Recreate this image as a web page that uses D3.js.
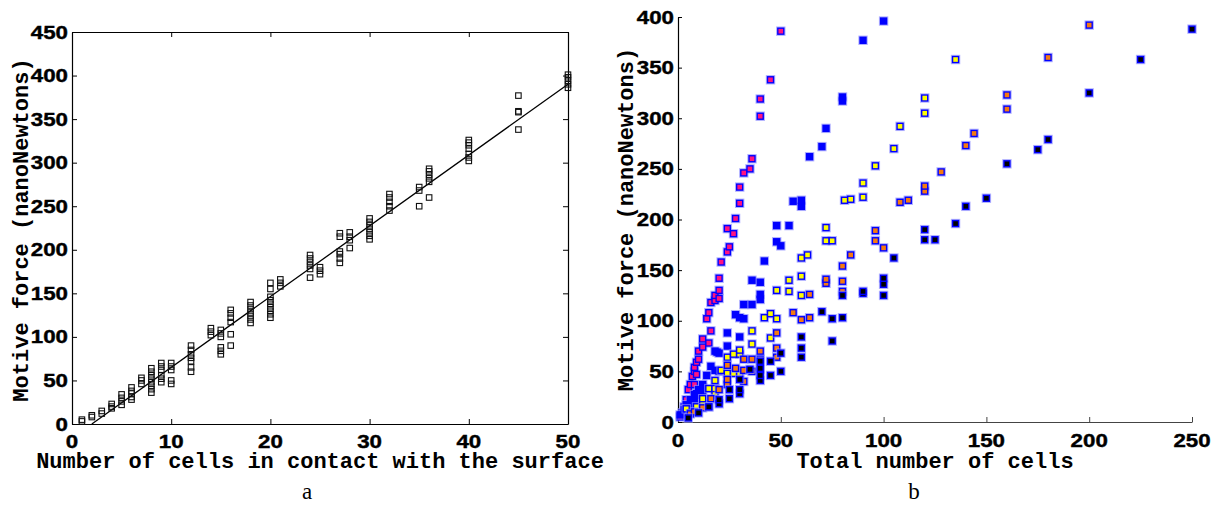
<!DOCTYPE html>
<html><head><meta charset="utf-8">
<script src="https://cdn.jsdelivr.net/npm/d3@7"></script>
<style>
body{margin:0;background:#fff;}
svg{display:block;}
text.tl{font-family:'Liberation Sans', Arial, Helvetica, sans-serif;font-weight:bold;font-size:18px;fill:#000;stroke:#000;stroke-width:0.4px;}
</style></head>
<body>
<svg id="c" width="1213" height="505"></svg>
<script>
// ---------- Data: panel a ----------
const aXTicks = [0,10,20,30,40,50];
const aYTicks = [0,50,100,150,200,250,300,350,400,450];
const aCells = [1,1,2,2,3,3,4,4,4,5,5,5,5,6,6,6,6,6,7,7,7,
  8,8,8,8,8,8,8,8,9,9,9,9,9,9,10,10,10,10,10,
  12,12,12,12,12,12,12,14,14,14,15,15,15,15,15,15,16,16,16,16,16,16,
  18,18,18,18,18,18,18,20,20,20,20,20,20,20,20,20,21,21,21,
  24,24,24,24,24,24,25,25,25,27,27,27,27,27,27,28,28,28,28,
  30,30,30,30,30,30,30,32,32,32,32,32,35,35,35,36,36,36,36,36,36,
  40,40,40,40,40,40,40,45,45,45,45,50,50,50,50,50];
const aForce = [3,5,8,10,12,15,18,20,23,22,26,30,34,28,31,35,38,42,46,50,53,
  36,40,44,48,52,56,60,64,48,52,56,62,66,70,46,50,62,66,70,
  60,65,72,76,80,85,90,102,106,110,80,84,88,100,104,108,90,103,117,122,127,131,
  116,120,124,128,132,136,140,122,126,130,134,138,142,146,155,162,158,162,166,
  168,178,182,186,190,194,172,176,180,185,190,195,198,215,219,202,211,215,220,
  212,216,220,224,228,232,236,245,250,255,260,264,250,268,272,260,278,282,286,290,293,
  302,306,310,316,320,323,326,338,358,359,377,386,390,394,398,401];
const aFitX = [2,50];
const aFitY = [0,390];

// ---------- Data: panel b ----------
const bXTicks = [0,50,100,150,200,250];
const bYTicks = [0,50,100,150,200,250,300,350,400];
const bSeriesNames = ["pink","blue","yellow","orange","black"];
const bSeriesColors = ["#ff1480","#0000ff","#ffff00","#f57a10","#000000"];
const pinkX = [1,2,3,4,5,6,7,8,8,8,9,9,10,10,12,12,14,15,15,16,16,18,18,20,20,20,21,24,24,25,27,28,30,30,32,35,36,40,40,45,50];
const pinkY = [5,9,15,22,32,37,45,37,50,54,47,59,62,70,74,82,102,78,108,90,118,120,125,122,130,142,158,168,191,173,186,201,216,232,246,250,260,302,319,338,386];
const blueX = [1,3,4,5,6,6,7,8,8,9,10,10,11,12,12,12,14,15,16,18,18,19,20,20,24,24,28,30,30,32,32,36,36,40,40,40,42,48,48,50,54,56,60,60,64,70,72,80,80,90,100];
const blueY = [7,12,17,12,15,22,18,20,27,28,22,32,25,30,34,37,46,15,55,51,70,69,50,68,75,88,106,84,103,102,116,116,140,121,126,138,159,178,194,174,194,218,213,219,262,272,290,317,321,377,396];
const yellowX = [4,6,9,12,12,15,18,18,18,21,24,24,27,27,30,30,30,36,36,42,45,45,48,48,54,54,60,60,60,63,72,72,75,81,84,90,90,96,105,108,120,120,135];
const yellowY = [13,9,15,18,23,33,29,33,41,51,48,64,48,67,47,67,71,77,90,103,83,107,102,130,129,140,125,144,162,165,179,192,179,219,220,222,236,253,270,292,305,320,358];
const orangeX = [6,8,12,16,20,24,24,24,28,32,32,32,36,36,40,40,40,48,48,48,56,60,64,64,72,72,80,80,80,84,96,96,100,108,112,120,120,128,140,144,160,160,180,200];
const orangeY = [8,10,14,23,32,37,42,56,53,40,51,62,50,62,52,62,70,64,73,88,108,101,103,126,137,141,129,139,154,165,179,189,172,217,219,228,233,247,273,285,309,323,360,392];
const blackX = [5,10,15,20,20,25,25,30,30,30,35,40,40,40,40,45,45,50,50,60,60,60,70,75,75,80,80,90,90,100,100,100,105,120,120,125,135,140,150,160,175,180,200,225,250];
const blackY = [4,9,15,18,22,23,32,28,32,42,52,41,46,53,60,46,60,50,68,64,73,84,109,80,102,103,125,127,129,125,136,142,162,180,190,180,196,213,221,255,269,279,325,358,388];
const bSeriesX = [pinkX, blueX, yellowX, orangeX, blackX];
const bSeriesY = [pinkY, blueY, yellowY, orangeY, blackY];

// ---------- Text ----------
const aXTitle = "Number of cells in contact with the surface";
const bXTitle = "Total number of cells";
const yTitle = "Motive force (nanoNewtons)";

const svg = d3.select("#c");
const MONO = "'Liberation Mono', 'Courier New', monospace";
const DIGIT_W = 12.4; // rendered width per digit of tick labels

function styleAxis(g, color) {
  g.selectAll("path.domain").attr("stroke", color).attr("stroke-width", 1.2);
  g.selectAll(".tick line").attr("stroke", color).attr("stroke-width", 1);
}
function xLabels(scale, ticks, yBase) {
  svg.append("g").selectAll("text").data(ticks).join("text").attr("class", "tl")
    .attr("x", d => scale(d)).attr("y", yBase).attr("text-anchor", "middle")
    .attr("textLength", d => String(d).length * DIGIT_W).attr("lengthAdjust", "spacingAndGlyphs")
    .text(d => d);
}
function yLabels(scale, ticks, xRight) {
  svg.append("g").selectAll("text").data(ticks).join("text").attr("class", "tl")
    .attr("x", xRight).attr("y", d => scale(d) + 6.5).attr("text-anchor", "end")
    .attr("textLength", d => String(d).length * DIGIT_W).attr("lengthAdjust", "spacingAndGlyphs")
    .text(d => d);
}

// ================= Panel a =================
const ax = d3.scaleLinear().domain([0,50]).range([72,568]);
const ay = d3.scaleLinear().domain([0,450]).range([424,32]);

const aBottom = svg.append("g").attr("transform", `translate(0,${ay(0)})`)
  .call(d3.axisBottom(ax).tickValues(aXTicks).tickSizeInner(-5).tickSizeOuter(0).tickFormat(""));
styleAxis(aBottom, "#000");
const aLeft = svg.append("g").attr("transform", `translate(${ax(0)},0)`)
  .call(d3.axisLeft(ay).tickValues(aYTicks).tickSizeInner(-5).tickSizeOuter(0).tickFormat(""));
styleAxis(aLeft, "#000");
const aTop = svg.append("g").attr("transform", `translate(0,${ay(450)})`)
  .call(d3.axisTop(ax).tickValues(aXTicks).tickSizeInner(-5).tickSizeOuter(0).tickFormat(""));
styleAxis(aTop, "#000");
const aRight = svg.append("g").attr("transform", `translate(${ax(50)},0)`)
  .call(d3.axisRight(ay).tickValues(aYTicks).tickSizeInner(-5).tickSizeOuter(0).tickFormat(""));
styleAxis(aRight, "#000");
xLabels(ax, aXTicks, 448);
yLabels(ay, aYTicks, ax(0) - 4);

svg.append("path")
  .datum(aFitX.map((x,i)=>[x, aFitY[i]]))
  .attr("d", d3.line().x(d=>ax(d[0])).y(d=>ay(d[1])))
  .attr("stroke", "#000").attr("stroke-width", 1.3).attr("fill", "none");

const MS = 5.5;
svg.append("g").selectAll("rect").data(aCells.map((c,i)=>[c, aForce[i]])).join("rect")
  .attr("x", d=>ax(d[0]) - MS/2).attr("y", d=>ay(d[1]) - MS/2)
  .attr("width", MS).attr("height", MS)
  .attr("fill", "none").attr("stroke", "#111").attr("stroke-width", 1.1);

svg.append("text").attr("x", (ax(0)+ax(50))/2).attr("y", 468)
  .attr("text-anchor", "middle").attr("font-family", MONO).attr("font-weight", "bold")
  .attr("font-size", 22).text(aXTitle);
svg.append("text").attr("transform", `translate(28,${(ay(0)+ay(450))/2 + 2}) rotate(-90)`)
  .attr("text-anchor", "middle").attr("font-family", MONO).attr("font-weight", "bold")
  .attr("font-size", 22).text(yTitle);
svg.append("text").attr("x", 307).attr("y", 499).attr("text-anchor", "middle")
  .attr("font-family", "'Liberation Serif', 'DejaVu Serif', serif").attr("font-size", 23).text("a");

// ================= Panel b =================
const bx = d3.scaleLinear().domain([0,250]).range([678,1192]);
const by = d3.scaleLinear().domain([0,400]).range([422,17]);

const bBottom = svg.append("g").attr("transform", `translate(0,${by(0)})`)
  .call(d3.axisBottom(bx).tickValues(bXTicks).tickSizeInner(-5).tickSizeOuter(0).tickFormat(""));
styleAxis(bBottom, "#444");
const bLeft = svg.append("g").attr("transform", `translate(${bx(0)},0)`)
  .call(d3.axisLeft(by).tickValues(bYTicks).tickSizeInner(-4).tickSizeOuter(0).tickFormat(""));
styleAxis(bLeft, "#000");
xLabels(bx, bXTicks, 447);
yLabels(by, bYTicks, bx(0) - 4);

const BS = 6;
bSeriesNames.forEach((name, si) => {
  const pts = bSeriesX[si].map((x,i)=>[x, bSeriesY[si][i]]);
  const g = svg.append("g").attr("class", "series-" + name);
  g.selectAll("rect.halo").data(pts).join("rect").attr("class","halo")
    .attr("x", d=>bx(d[0]) - (BS+2)/2).attr("y", d=>by(d[1]) - (BS+2)/2)
    .attr("width", BS+2).attr("height", BS+2)
    .attr("fill", "none").attr("stroke", "#8f8fff").attr("stroke-width", 1.4).attr("stroke-opacity", 0.7);
  g.selectAll("rect.mk").data(pts).join("rect").attr("class","mk")
    .attr("x", d=>bx(d[0]) - BS/2).attr("y", d=>by(d[1]) - BS/2)
    .attr("width", BS).attr("height", BS)
    .attr("fill", bSeriesColors[si]).attr("stroke", "#0000ff").attr("stroke-width", 1.4);
});

svg.append("text").attr("x", (bx(0)+bx(250))/2).attr("y", 468)
  .attr("text-anchor", "middle").attr("font-family", MONO).attr("font-weight", "bold")
  .attr("font-size", 22).text(bXTitle);
svg.append("text").attr("transform", `translate(633,${(by(0)+by(400))/2}) rotate(-90)`)
  .attr("text-anchor", "middle").attr("font-family", MONO).attr("font-weight", "bold")
  .attr("font-size", 22).text(yTitle);
svg.append("text").attr("x", 914).attr("y", 499).attr("text-anchor", "middle")
  .attr("font-family", "'Liberation Serif', 'DejaVu Serif', serif").attr("font-size", 23).text("b");
</script>
</body></html>
